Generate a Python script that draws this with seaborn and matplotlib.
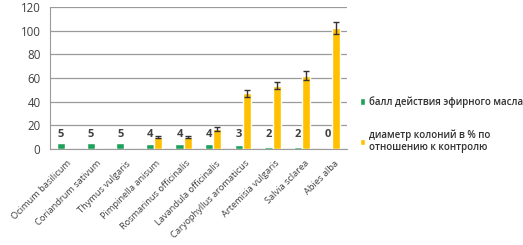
import matplotlib
matplotlib.use("Agg")
import matplotlib.pyplot as plt
import matplotlib.transforms as mtransforms
import seaborn as sns
import pandas as pd
import numpy as np

categories = ["Ocimum basilicum", "Coriandrum sativum", "Thymus vulgaris",
              "Pimpinella anisum", "Rosmarinus officinalis", "Lavandula officinalis",
              "Caryophyllus aromaticus", "Artemisia vulgaris", "Salvia sclarea", "Abies alba"]
score = [5, 5, 5, 4, 4, 4, 3, 2, 2, 0]
diameter = [0, 0, 0, 10, 10, 17, 47, 53.5, 62, 102]
diameter_err = [0, 0, 0, 0.8, 0.8, 1.5, 2.7, 3, 4, 5]
series_names = ["балл действия эфирного масла", "диаметр колоний в % по\nотношению к контролю"]

sns.set_style("white")
plt.rcParams['font.family'] = ['Open Sans', 'DejaVu Sans']

df = pd.DataFrame({
    "cat": categories * 2,
    "val": score + diameter,
    "series": [series_names[0]] * len(categories) + [series_names[1]] * len(categories),
})

fig = plt.figure(figsize=(5.23, 2.45), dpi=100)
ax = fig.add_axes([0.096, 0.392, 0.567, 0.579])
palette = ["#1FA15A", "#FFC000"]
sns.barplot(data=df, x="cat", y="val", hue="series", palette=palette,
            errorbar=None, width=0.55, ax=ax, zorder=3, saturation=1)

# error bars on the yellow series
yellow = ax.containers[1]
xs = [p.get_x() + p.get_width() / 2 for p in yellow]
for x, v, e in zip(xs, diameter, diameter_err):
    if v > 0:
        ax.errorbar(x, v, yerr=e, fmt="none", ecolor="#333333", elinewidth=1,
                    capsize=2.5, capthick=1, zorder=4)

# value labels of score above green bars
green = ax.containers[0]
for p, s in zip(green, score):
    ax.text(p.get_x() + p.get_width() / 2, 8, str(s), ha="center", va="bottom",
            fontsize=8, fontweight="bold", color="#404040", zorder=5)

ax.set_ylim(0, 120)
ax.set_yticks(range(0, 121, 20))
ax.set_xlim(-0.5, len(categories) - 0.5)
ax.grid(axis="y", color="#9a9a9a", linewidth=0.9, zorder=0)
ax.set_xlabel("")
ax.set_ylabel("")
for s in ["top", "right"]:
    ax.spines[s].set_visible(False)
ax.spines["left"].set_color("#9a9a9a")
ax.spines["bottom"].set_color("#9a9a9a")
ax.tick_params(axis="y", labelsize=8.3, colors="#404040", length=0, pad=7)
ax.tick_params(axis="x", length=0, labelsize=6.7, colors="#404040", pad=5)
ax.set_xticks(range(len(categories)))
ax.set_xticklabels(categories, rotation=45, ha="right", rotation_mode="anchor")
offset = mtransforms.ScaledTranslation(2 / 100, -3 / 100, fig.dpi_scale_trans)
for lab in ax.get_xticklabels():
    lab.set_transform(lab.get_transform() + offset)
# tick marks between categories
ax.set_xticks(np.arange(-0.5, len(categories), 1), minor=True)
ax.tick_params(axis="x", which="minor", length=3, color="#9a9a9a", direction="out")

handles, labels = ax.get_legend_handles_labels()
ax.legend(handles, labels, loc="center left", bbox_to_anchor=(1.03, 0.17),
          frameon=False, prop={"size": 7, "weight": "semibold"},
          handlelength=0.6, handleheight=0.6,
          labelspacing=2.2, handletextpad=0.4, labelcolor="#303030",
          borderaxespad=0)

fig.savefig("out.png", dpi=100)
